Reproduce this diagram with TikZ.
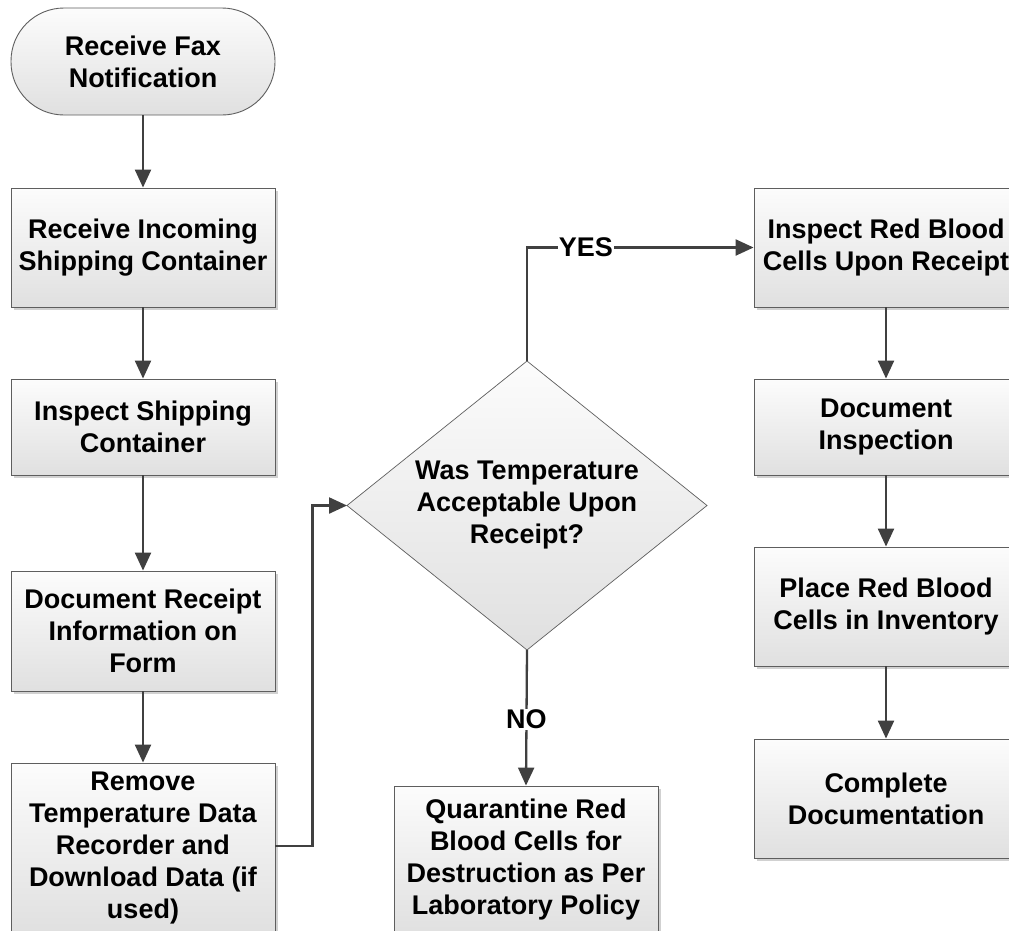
\documentclass[tikz,border=0pt]{standalone}
\usepackage{fontspec}
\setmainfont{Liberation Sans}
\usetikzlibrary{arrows.meta,shapes.geometric,shadows}
\definecolor{linec}{HTML}{404040}
\definecolor{borderc}{HTML}{5E5E5E}
\definecolor{botc}{HTML}{E0E0E0}
\definecolor{topc}{HTML}{FCFCFC}
\begin{document}
\begin{tikzpicture}[x=1pt,y=-1pt,
  txt/.style={font=\fontsize{27}{32}\selectfont\bfseries, align=center, text=black},
  procbox/.style={txt, rectangle, draw=borderc, line width=0.9pt, top color=topc, bottom color=botc,
    minimum width=264pt, inner sep=0pt,
    drop shadow={shadow xshift=3pt, shadow yshift=-3pt, fill=black, opacity=0.18}},
  termbox/.style={txt, rectangle, rounded corners=53pt, draw=borderc, line width=0.9pt,
    top color=topc, bottom color=botc, minimum width=264pt, minimum height=107pt, inner sep=0pt},
  decbox/.style={diamond, draw=borderc, line width=0.7pt, top color=topc, bottom color=botc,
    minimum width=360pt, minimum height=289pt, inner sep=0pt, outer sep=0pt},
  arr/.style={draw=linec, line width=2.3pt, -{Triangle[length=18pt,width=16pt]}},
  lbl/.style={txt, fill=white, inner sep=1pt}
]
\useasboundingbox (0,0) rectangle (1009,930);
\clip (0,0) rectangle (1009,930);
\fill[white] (0,0) rectangle (1009,930);

\node[termbox] (start) at (143,61.5) {Receive Fax\\Notification};
\node[procbox, minimum height=119pt] (b2) at (143,247.5) {Receive Incoming\\Shipping Container};
\node[procbox, minimum height=96pt] (b3) at (143,427) {Inspect Shipping\\Container};
\node[procbox, minimum height=120pt] (b4) at (143,631) {Document Receipt\\Information on\\Form};
\node[procbox, minimum height=170pt] (b5) at (143,848) {Remove\\Temperature Data\\Recorder and\\Download Data (if\\used)};

\node[decbox] (dec) at (527,505.5) {};
\node[txt] (dectext) at (dec.center) {Was Temperature\\Acceptable Upon\\Receipt?};
\node[procbox, minimum height=148pt] (q) at (526,860) {Quarantine Red\\Blood Cells for\\Destruction as Per\\Laboratory Policy};

\node[procbox, minimum height=119pt] (r1) at (886,247.5) {Inspect Red Blood\\Cells Upon Receipt};
\node[procbox, minimum height=96pt] (r2) at (886,427) {Document\\Inspection};
\node[procbox, minimum height=119pt] (r3) at (886,606.5) {Place Red Blood\\Cells in Inventory};
\node[procbox, minimum height=119pt] (r4) at (886,798.5) {Complete\\Documentation};

\draw[arr] (start.south) -- (b2.north);
\draw[arr] (b2.south) -- (b3.north);
\draw[arr] (b3.south) -- (b4.north);
\draw[arr] (b4.south) -- (b5.north);
\draw[arr] ([yshift=2pt]b5.east) -- ++(37,0) |- (dec.west);
\draw[arr] (dec.north) |- node[lbl, pos=0.63] {YES} (r1.west);
\draw[arr] (dec.south) -- node[lbl, pos=0.51] {NO} (q.north);
\draw[arr] (r1.south) -- (r2.north);
\draw[arr] (r2.south) -- (r3.north);
\draw[arr] (r3.south) -- (r4.north);
\end{tikzpicture}
\end{document}
